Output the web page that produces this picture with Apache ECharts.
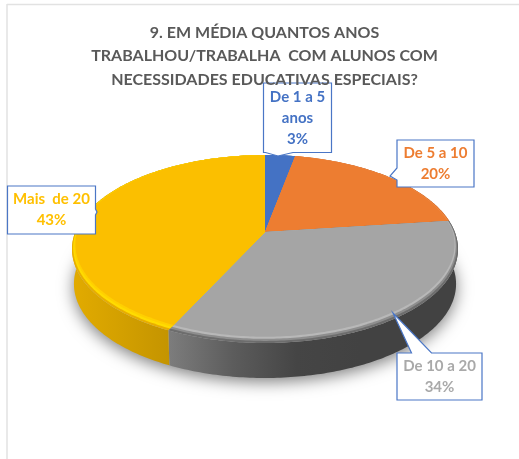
<!DOCTYPE html>
<html>
<head>
<meta charset="utf-8">
<style>html,body{margin:0;padding:0;background:#fff}#c{width:519px;height:459px}</style>
<script src="https://cdn.jsdelivr.net/npm/echarts@6/dist/echarts.min.js"></script>
</head>
<body>
<div id="c"></div>
<script>
const chartTitle = "9. EM MÉDIA QUANTOS ANOS\nTRABALHOU/TRABALHA  COM ALUNOS COM\nNECESSIDADES EDUCATIVAS ESPECIAIS?";
const categories = ["De 1 a 5 anos", "De 5 a 10", "De 10 a 20", "Mais de 20"];
const values = [3, 20, 34, 43];
const percentLabels = ["3%", "20%", "34%", "43%"];
const nameLines = [["De 1 a 5", "anos"], ["De 5 a 10"], ["De 10 a 20"], ["Mais  de 20"]];
const colors = ["#4472c4", "#ed7d31", "#a5a5a5", "#fbbf00"];
const textColors = ["#4472c4", "#ed7d31", "#a9a9a9", "#ffc000"];

const FONT = 'Lato, "Open Sans", sans-serif';
const BORDER = "#4a76c6";
// projection of the tilted disc
const AX = 265, AY = 232, P = 0.1809, B = 90.9, A = 189.8, DEPTH = 35, BOTTOM_SCALE = 0.99;
const total = values.reduce((a, b) => a + b, 0);
const starts = [];
values.reduce((acc, v, i) => { starts[i] = acc; return acc + v; }, 0);

function project(a, r) {
  const x = Math.sin(a) * r, y = -Math.cos(a) * r, w = 1 - P * y;
  return [AX + A * x / w, AY + B * y / w];
}
function rimR(a, f) {
  const x = Math.sin(a), y = -Math.cos(a);
  return 1 - f * (0.046 * Math.max(0, y) + 0.01 * Math.abs(x));
}
function arc(a0, a1, fn) {
  const n = Math.max(2, Math.ceil((a1 - a0) / 0.015)), out = [];
  for (let i = 0; i <= n; i++) out.push(fn(a0 + (a1 - a0) * i / n));
  return out;
}
function sliceAngles(i, v) {
  const a0 = starts[i] / total * 2 * Math.PI;
  return [a0, a0 + v / total * 2 * Math.PI];
}
function hGrad(x0, x1, stops) {
  return { type: "linear", x: x0, y: 0, x2: x1, y2: 0, global: true,
    colorStops: stops.map((c, k) => ({ offset: k / (stops.length - 1), color: c })) };
}
const wallFill = [
  "#2f5597", "#b35a1f",
  hGrad(170, 360, ["#7c7c7c", "#5c5c5c", "#454545", "#424242"]),
  hGrad(72, 170, ["#e2ab00", "#d3a000", "#c49400"])
];
// rim layers from outer edge to inner face
const rimLayers = [
  ["#3c64ad", "#5a86d2", colors[0]],
  ["#e27630", "#f08a45", colors[1]],
  ["#6d6d6d", "#8e8e8e", "#b8b8b8", colors[2]],
  ["#e8ae00", "#ffdc00", "#ffd000", colors[3]]
];

const chart = echarts.init(document.getElementById("c"), null, { renderer: "canvas" });

function renderWall(params, api) {
  const i = params.dataIndex, [a0, a1] = sliceAngles(i, api.value(0));
  const top = arc(a0, a1, a => project(a, 1));
  const bot = arc(a0, a1, a => {
    const p = project(a, 1);
    return [AX + (p[0] - AX) * BOTTOM_SCALE, p[1] + DEPTH];
  }).reverse();
  return { type: "polygon", shape: { points: top.concat(bot) }, style: { fill: wallFill[i] } };
}
function renderShadow(params, api) {
  const pts = arc(0, 2 * Math.PI, a => {
    const p = project(a, 1);
    return [AX + (p[0] - AX) * BOTTOM_SCALE, p[1] + DEPTH - 1];
  });
  return { type: "polygon", shape: { points: pts },
    style: { fill: "#bbb", shadowBlur: 16, shadowColor: "rgba(0,0,0,0.5)", shadowOffsetY: 5 } };
}
function renderFace(params, api) {
  const i = params.dataIndex, [a0, a1] = sliceAngles(i, api.value(0));
  const stops = rimLayers[i], children = [];
  stops.forEach((c, k) => {
    const f = k / (stops.length - 1);
    const pts = [[AX, AY]].concat(arc(a0, a1, a => project(a, rimR(a, f))));
    children.push({ type: "polygon", shape: { points: pts }, style: { fill: c } });
  });
  return { type: "group", children };
}
// callout geometry: box [x, y, w, h], pointer points, and the box side the pointer sits on
const boxes = [[263.5, 83, 68, 69.5], [397, 140, 77, 47], [397, 353, 85, 47], [7.5, 186, 88, 48]];
const tails = [
  [[293, 152.5], [278, 156], [265.5, 152.5]],
  [[397, 180], [390, 176], [397, 168]],
  [[411.5, 353], [393, 313], [431.5, 353]],
  [[95.5, 209], [97, 212], [95.5, 215]]
];
const tailSides = [2, 3, 0, 1];
function renderCallout(params, api) {
  const i = params.dataIndex, [x, y, w, h] = boxes[i];
  const outline = [];
  const corners = [[x, y], [x + w, y], [x + w, y + h], [x, y + h]];
  corners.forEach((c, k) => {
    outline.push(c);
    if (k === tailSides[i]) outline.push(...tails[i]);
  });
  const lines = nameLines[i].concat([percentLabels[i]]);
  const lineH = 21, cx = x + w / 2, startY = y + h / 2 - (lines.length - 1) * lineH / 2;
  const children = [{ type: "polygon", shape: { points: outline },
    style: { fill: "#fff", stroke: BORDER, lineWidth: 1.2 } }];
  lines.forEach((s, k) => children.push({ type: "text",
    style: { text: s, x: cx, y: startY + k * lineH, align: "center", verticalAlign: "middle",
      fill: textColors[i], font: "bold 15px " + FONT } }));
  return { type: "group", children };
}
const data = values.map((v, i) => ({ name: categories[i], value: [v] }));
const custom = (name, z, renderItem, d) => ({ type: "custom", name, coordinateSystem: "none", z,
  silent: true, animation: false, clip: false, renderItem, data: d || data });

chart.setOption({
  animation: false,
  backgroundColor: "#fff",
  title: { text: chartTitle, left: 259.5, top: 16, textAlign: "center",
    textStyle: { fontFamily: FONT, fontWeight: "bold", fontSize: 16, lineHeight: 23.5, color: "#595959" } },
  graphic: [
    { type: "line", shape: { x1: 7, y1: 4.5, x2: 519, y2: 4.5 }, style: { stroke: "#e2e2e2", lineWidth: 1.5 } },
    { type: "line", shape: { x1: 7, y1: 4, x2: 7, y2: 459 }, style: { stroke: "#e2e2e2", lineWidth: 1.5 } }
  ],
  series: [
    custom("shadow", 1, renderShadow, [{ value: [total] }]),
    custom("walls", 2, renderWall),
    custom("faces", 3, renderFace),
    custom("labels", 4, renderCallout)
  ]
});
</script>
</body>
</html>
